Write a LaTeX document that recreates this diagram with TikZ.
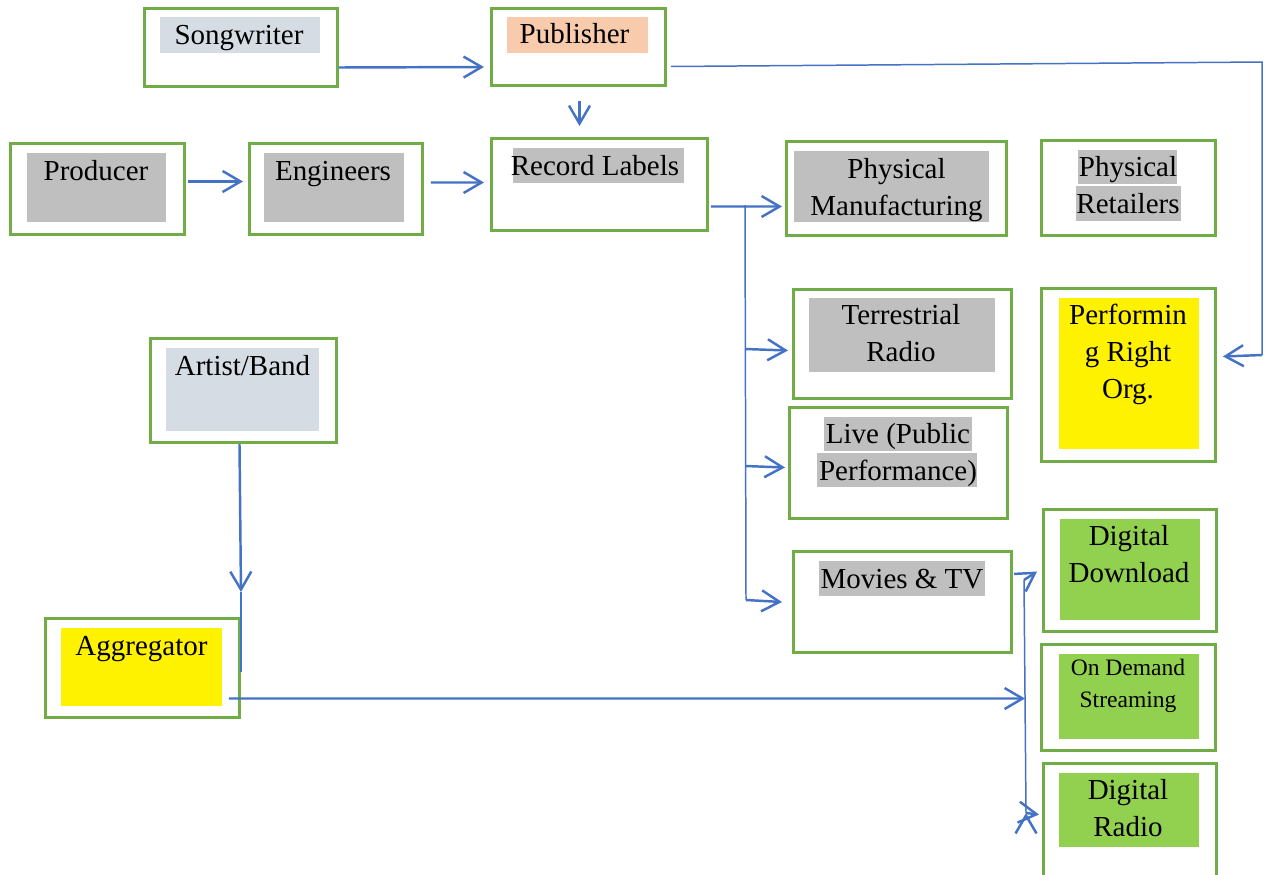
\documentclass[tikz,border=0pt]{standalone}
\usepackage{fontspec}
\setmainfont{Liberation Serif}
\usetikzlibrary{arrows.meta, calc}

\definecolor{boxgreen}{HTML}{70AD47}
\definecolor{linkblue}{HTML}{4472C4}
\definecolor{shadegrey}{HTML}{BFBFBF}
\definecolor{paleblue}{HTML}{D6DCE4}
\definecolor{peach}{HTML}{F8CBAD}
\definecolor{leafgreen}{HTML}{92D050}

\begin{document}
\begin{tikzpicture}[
        box/.style={draw=boxgreen, line width=1.7pt, anchor=north west, inner sep=0pt},
        lbl/.style={font=\fontsize{16.5}{21}\selectfont, align=center, inner sep=0pt, anchor=base},
        small/.style={lbl, font=\fontsize{13.4}{18.2}\selectfont},
        arr/.style={draw=linkblue, line width=1.4pt, -{Straight Barb[length=3.6mm, width=4.2mm]}},
        link/.style={draw=linkblue, line width=0.85pt}]
    \path[use as bounding box, clip] (0,0) rectangle (25.38,-17.48);

    % outer boxes
    \node[box, minimum width=3.86cm, minimum height=1.56cm] (sw)   at (2.86,-0.14)  {};
    \node[box, minimum width=3.48cm, minimum height=1.54cm] (pub)  at (9.80,-0.14)  {};
    \node[box, minimum width=3.48cm, minimum height=1.82cm] (prod) at (0.18,-2.84)  {};
    \node[box, minimum width=3.46cm, minimum height=1.82cm] (eng)  at (4.96,-2.84)  {};
    \node[box, minimum width=4.32cm, minimum height=1.84cm] (rl)   at (9.80,-2.74)  {};
    \node[box, minimum width=4.40cm, minimum height=1.88cm] (pm)   at (15.70,-2.80) {};
    \node[box, minimum width=3.48cm, minimum height=1.90cm] (pr)   at (20.80,-2.78) {};
    \node[box, minimum width=4.36cm, minimum height=2.18cm] (tr)   at (15.84,-5.76) {};
    \node[box, minimum width=3.48cm, minimum height=3.46cm] (pro)  at (20.80,-5.74) {};
    \node[box, minimum width=4.36cm, minimum height=2.22cm] (live) at (15.76,-8.12) {};
    \node[box, minimum width=4.36cm, minimum height=2.02cm] (mov)  at (15.84,-11.00) {};
    \node[box, minimum width=3.46cm, minimum height=2.44cm] (dd)   at (20.84,-10.16) {};
    \node[box, minimum width=3.48cm, minimum height=2.12cm] (od)   at (20.80,-12.86) {};
    \node[box, minimum width=3.46cm, minimum height=2.40cm] (dr)   at (20.84,-15.24) {};
    \node[box, minimum width=3.72cm, minimum height=2.08cm] (art)  at (2.98,-6.74)  {};
    \node[box, minimum width=3.88cm, minimum height=1.98cm] (agg)  at (0.88,-12.34) {};

    % shading
    \fill[paleblue]   (3.20,-0.34) rectangle (6.40,-1.06);
    \fill[peach]      (10.14,-0.34) rectangle (12.96,-1.06);
    \fill[shadegrey]  (0.54,-3.06) rectangle (3.32,-4.44);
    \fill[shadegrey]  (5.28,-3.06) rectangle (8.08,-4.44);
    \fill[shadegrey]  (10.26,-2.96) rectangle (13.68,-3.66);
    \fill[shadegrey]  (15.88,-3.02) rectangle (19.78,-4.44);
    \fill[shadegrey]  (21.56,-3.00) rectangle (23.54,-3.68);
    \fill[shadegrey]  (21.52,-3.72) rectangle (23.62,-4.42);
    \fill[shadegrey]  (16.18,-5.96) rectangle (19.90,-7.44);
    \fill[yellow]     (21.18,-5.96) rectangle (23.98,-8.98);
    \fill[shadegrey]  (16.48,-8.34) rectangle (19.44,-9.02);
    \fill[shadegrey]  (16.34,-9.06) rectangle (19.54,-9.74);
    \fill[shadegrey]  (16.38,-11.22) rectangle (19.70,-11.92);
    \fill[leafgreen]  (21.20,-10.38) rectangle (24.00,-12.40);
    \fill[leafgreen]  (21.18,-13.08) rectangle (23.98,-14.78);
    \fill[leafgreen]  (21.18,-15.46) rectangle (23.98,-16.94);
    \fill[paleblue]   (3.32,-6.96) rectangle (6.38,-8.62);
    \fill[yellow]     (1.22,-12.56) rectangle (4.44,-14.12);

    % labels (anchor base = last line)
    \node[lbl] (sw-t)   at (4.78,-0.88)   {Songwriter};
    \node[lbl] (pub-t)  at (11.49,-0.86)  {Publisher};
    \node[lbl] (prod-t) at (1.92,-3.60)   {Producer};
    \node[lbl] (eng-t)  at (6.66,-3.60)   {Engineers};
    \node[lbl] (rl-t)   at (11.90,-3.50)  {Record Labels};
    \node[lbl] (pm-t)   at (17.93,-4.30)  {Physical\\Manufacturing};
    \node[lbl] (pr-t)   at (22.56,-4.26)  {Physical\\Retailers};
    \node[lbl] (tr-t)   at (18.02,-7.22)  {Terrestrial\\Radio};
    \node[lbl] (pro-t)  at (22.56,-7.96)  {Performin\\g Right\\Org.};
    \node[lbl] (live-t) at (17.96,-9.60)  {Live (Public\\Performance)};
    \node[lbl] (mov-t)  at (18.04,-11.76) {Movies \& TV};
    \node[lbl] (dd-t)   at (22.58,-11.64) {Digital\\Download};
    \node[small] (od-t) at (22.56,-14.14) {On Demand\\Streaming};
    \node[lbl] (dr-t)   at (22.56,-16.72) {Digital\\Radio};
    \node[lbl] (art-t)  at (4.85,-7.50)   {Artist/Band};
    \node[lbl] (agg-t)  at (2.83,-13.10)  {Aggregator};

    % connectors
    \coordinate (t0) at (14.90,-4.10);
    \coordinate (t1) at (14.90,-6.98);
    \coordinate (t2) at (14.91,-9.32);
    \coordinate (t3) at (14.92,-12.00);
    \coordinate (prc) at (25.24,-1.24);
    \coordinate (prd) at (25.24,-7.10);
    \coordinate (d0) at (20.48,-11.60);
    \coordinate (d1) at (20.52,-16.26);

    \draw[link] ($(pub.east)+(0.08,-0.39)$) -- (prc) -- (prd);
    \draw[link] (t0) -- (t3);
    \draw[link] (d0) -- (d1);
    \draw[link] ($(agg.north east)+(0,0.50)$) -- ($(agg.north east)+(0,-1.10)$);

    \path[arr] ($(sw.east)+(0,-0.40)$) edge ($(pub.west)+(-0.12,-0.40)$)
               ($(pub.south)+(0.02,-0.28)$) edge ($(pub.south |- rl.north)+(0.02,0.22)$)
               ($(prod.east)+(0.04,0.15)$) edge ($(eng.west)+(-0.10,0.15)$)
               ($(eng.east)+(0.14,0.13)$) edge ($(rl.west)+(-0.12,0.04)$)
               ($(rl.east)+(0.04,-0.44)$) edge ($(pm.west)+(-0.06,-0.36)$)
               (t1) edge ($(tr.west)+(-0.08,-0.13)$)
               (t2) edge ($(live.west)+(-0.06,-0.09)$)
               (t3) edge ($(mov.west)+(-0.20,0)$)
               (prd) edge ($(pro.east)+(0.12,0.37)$)
               ($(art.south)+(-0.08,0)$) edge ($(agg.north east)+(0,0.50)$)
               ($(agg.east)+(-0.24,-0.61)$) edge ($(od.west)+(-0.30,-0.02)$)
               (d0) edge ($(dd.west)+(-0.10,-0.02)$)
               (d1) edge ($(dr.west)+(-0.06,0.18)$);
\end{tikzpicture}
\end{document}
